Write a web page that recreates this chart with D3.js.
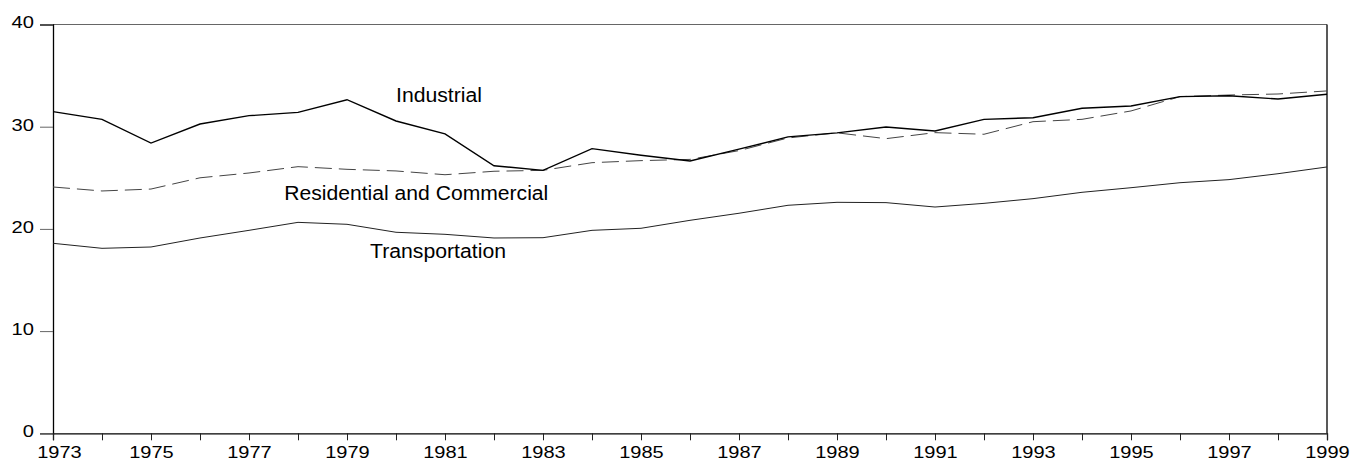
<!DOCTYPE html>
<html><head><meta charset="utf-8">
<script src="https://cdn.jsdelivr.net/npm/d3@7"></script>
<style>
html,body{margin:0;padding:0;background:#fff;}
svg text{font-family:"Liberation Sans",Arial,sans-serif;fill:#000;}
</style></head>
<body><svg id="c" width="1355" height="463"></svg>
<script>
const years = d3.range(1973, 2000);
const industrial = [31.47,30.72,28.4,30.26,31.08,31.4,32.64,30.56,29.3,26.18,25.73,27.85,27.2,26.64,27.8,29.0,29.4,29.97,29.58,30.72,30.88,31.8,32.03,32.94,33.03,32.71,33.17];
const residential = [24.1,23.71,23.9,25.0,25.47,26.09,25.83,25.67,25.3,25.64,25.73,26.48,26.68,26.8,27.66,28.9,29.4,28.83,29.42,29.26,30.49,30.72,31.54,32.94,33.1,33.2,33.5];
const transportation = [18.59,18.1,18.23,19.11,19.86,20.64,20.45,19.67,19.47,19.11,19.14,19.86,20.06,20.84,21.53,22.31,22.6,22.57,22.14,22.5,22.96,23.58,24.03,24.52,24.82,25.4,26.06];
const yTicks = [0,10,20,30,40];
const xLabelYears = d3.range(1973, 2000, 2);
const labels = [
  {text:"Industrial", year:1980.0, value:32.45, w:86},
  {text:"Residential and Commercial", year:1977.72, value:22.85, w:264},
  {text:"Transportation", year:1979.47, value:17.12, w:136}
];

const svg = d3.select("#c");
const L=53, R=1327, T=24.5, B=433.3;
const x = d3.scaleLinear().domain([1973,1999]).range([L,R]);
const y = d3.scaleLinear().domain([0,40]).range([B,T]);

// frame
svg.append("line").attr("x1",L).attr("x2",R).attr("y1",T).attr("y2",T).attr("stroke","#666").attr("stroke-width",1);
svg.append("line").attr("x1",R).attr("x2",R).attr("y1",T).attr("y2",B).attr("stroke","#222").attr("stroke-width",1.5);

// y axis
const ya = svg.append("g").attr("transform",`translate(${L},0)`)
  .call(d3.axisLeft(y).tickValues(yTicks).tickSize(13).tickPadding(6).tickFormat(d3.format("d")));
ya.select(".domain").attr("stroke","#000").attr("stroke-width",1.3);
ya.selectAll(".tick line").attr("stroke","#666");
ya.selectAll(".tick text").attr("font-size",17).attr("fill","#000").attr("dy","0.2em")
  .attr("font-family","Liberation Sans, Arial, sans-serif")
  .attr("textLength",d=>String(d).length*11.2).attr("lengthAdjust","spacingAndGlyphs");

// x axis
const xa = svg.append("g").attr("transform",`translate(0,${B})`)
  .call(d3.axisBottom(x).tickValues(years).tickSize(7).tickPadding(6)
    .tickFormat(d=> xLabelYears.includes(d) ? String(d) : ""));
xa.select(".domain").attr("stroke","#000").attr("stroke-width",1.3);
xa.selectAll(".tick line").attr("stroke","#222");
xa.selectAll(".tick text").attr("font-size",17).attr("fill","#000")
  .attr("font-family","Liberation Sans, Arial, sans-serif")
  .filter(d=>xLabelYears.includes(d))
  .attr("textLength",44.5).attr("lengthAdjust","spacingAndGlyphs")
  .attr("dx",d=> d===1973 ? 6 : 0);

const line = d3.line().x((d,i)=>x(years[i])).y(d=>y(d));
svg.append("path").datum(residential).attr("d",line).attr("fill","none")
  .attr("stroke","#444").attr("stroke-width",1).attr("stroke-dasharray","17,7");
svg.append("path").datum(transportation).attr("d",line).attr("fill","none")
  .attr("stroke","#222").attr("stroke-width",1);
svg.append("path").datum(industrial).attr("d",line).attr("fill","none")
  .attr("stroke","#000").attr("stroke-width",1.4);

svg.selectAll("text.lab").data(labels).enter().append("text").attr("class","lab")
  .attr("x",d=>x(d.year)).attr("y",d=>y(d.value))
  .attr("font-size",19.5).attr("textLength",d=>d.w).attr("lengthAdjust","spacingAndGlyphs")
  .text(d=>d.text);
</script></body></html>
